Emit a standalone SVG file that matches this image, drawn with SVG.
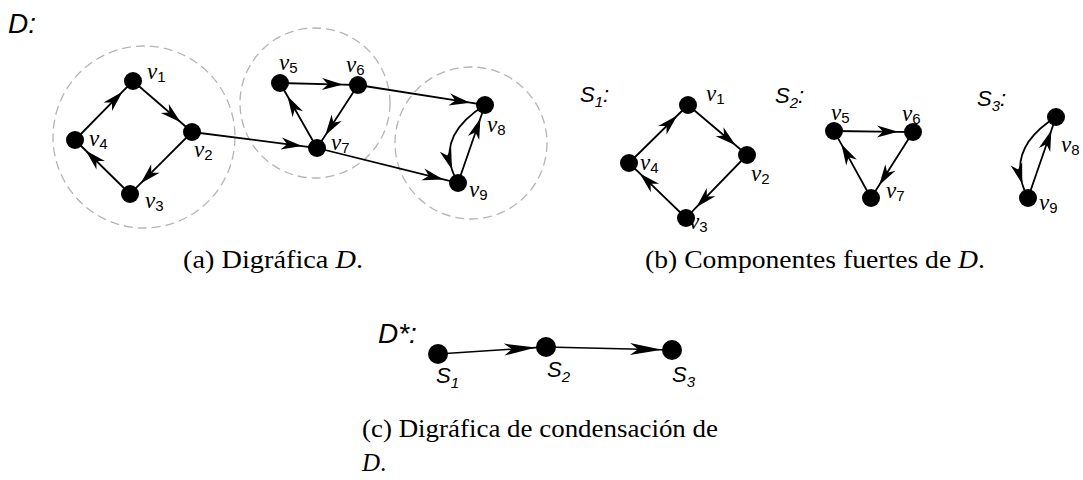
<svg xmlns="http://www.w3.org/2000/svg" width="1083" height="480" viewBox="0 0 1083 480">
<style>
.cl{fill:none;stroke:#b4b4b4;stroke-width:1.3;stroke-dasharray:9 5}
.nd{fill:#000}
.e{fill:none;stroke:#000;stroke-width:1.8;marker-mid:url(#ah)}
.ec{fill:none;stroke:#000;stroke-width:1.6;marker-mid:url(#ahc)}
.lb{font-family:"Liberation Serif",serif;font-style:italic;font-size:23px;fill:#000}
.sb{font-family:"Liberation Sans",sans-serif;font-style:normal;font-size:15px}
.sl{font-family:"Liberation Sans",sans-serif;font-style:italic;font-size:22px;fill:#000}
.ss{font-size:15px}
.big{font-family:"Liberation Sans",sans-serif;font-style:italic;font-size:28px;fill:#000}
.cap{font-family:"Liberation Serif",serif;font-size:25px;fill:#000}
</style>
<defs>
<marker id="ah" viewBox="-22 -7 23 14" refX="0" refY="0" markerWidth="23" markerHeight="14" markerUnits="userSpaceOnUse" orient="auto">
<path d="M0,0 L-21,-6 L-15,0 L-21,6 Z" fill="#000"/>
</marker>
<marker id="ahc" viewBox="-33 -7 34 14" refX="0" refY="0" markerWidth="34" markerHeight="14" markerUnits="userSpaceOnUse" orient="auto">
<path d="M0,0 L-32,-6 L-24,0 L-32,6 Z" fill="#000"/>
</marker>
</defs>

<text class="big" x="8" y="33">D:</text>

<g id="clusters">
<circle class="cl" cx="144" cy="137" r="91"/>
<circle class="cl" cx="315" cy="103" r="75"/>
<circle class="cl" cx="471" cy="143" r="76"/>
</g>

<g id="connectors">
<path class="e" d="M75,140 L122.5,91.7 L133,81"/>
<path class="e" d="M133,81 L180.7,122.2 L192,132"/>
<path class="e" d="M192,132 L140.6,183.4 L130,194"/>
<path class="e" d="M130,194 L85.7,150.5 L75,140"/>
<path class="e" d="M192,132 L302.1,146.1 L317,148"/>
<path class="e" d="M280,83 L343,84.6 L358,85"/>
<path class="e" d="M358,85 L325.2,135.4 L317,148"/>
<path class="e" d="M317,148 L287.4,96 L280,83"/>
<path class="e" d="M358,85 L470.2,102.7 L485,105"/>
<path class="e" d="M317,148 L443.4,179.4 L458,183"/>
<path class="e" d="M458,183 L480.4,118.2 L485,105"/>
<path class="e" d="M485,105 Q439.95,133.05 451.98,169.77 Q454.1,176.25 458,183"/>

<path class="e" d="M629,163 L677.3,115.5 L688,105"/>
<path class="e" d="M688,105 L735.6,145.3 L747,155"/>
<path class="e" d="M747,155 L696.4,207.2 L686,218"/>
<path class="e" d="M686,218 L639.8,173.4 L629,163"/>
<path class="e" d="M834,131 L898,131.8 L913,132"/>
<path class="e" d="M913,132 L879.1,185.3 L871,198"/>
<path class="e" d="M871,198 L841.3,144.1 L834,131"/>
<path class="e" d="M1028,198 L1051.4,130.2 L1056,117"/>
<path class="e" d="M1056,117 Q1010.95,145.05 1022.26,183.94 Q1024.25,190.8 1028,198"/>

<path class="ec" d="M438,354 L536,347.6 L546,347"/>
<path class="ec" d="M546,347 L662,349.8 L672,350"/>
</g>

<g id="a-v1"><circle class="nd" cx="133" cy="81" r="9"/><text class="lb" x="147" y="79">ν<tspan class="sb" dy="3">1</tspan></text></g>
<g id="a-v2"><circle class="nd" cx="192" cy="132" r="9"/><text class="lb" x="194" y="157">ν<tspan class="sb" dy="3">2</tspan></text></g>
<g id="a-v3"><circle class="nd" cx="130" cy="194" r="9"/><text class="lb" x="145" y="208">ν<tspan class="sb" dy="3">3</tspan></text></g>
<g id="a-v4"><circle class="nd" cx="75" cy="140" r="9"/><text class="lb" x="89" y="146">ν<tspan class="sb" dy="3">4</tspan></text></g>
<g id="a-v5"><circle class="nd" cx="280" cy="83" r="9"/><text class="lb" x="279" y="70">ν<tspan class="sb" dy="3">5</tspan></text></g>
<g id="a-v6"><circle class="nd" cx="358" cy="85" r="9"/><text class="lb" x="346" y="72">ν<tspan class="sb" dy="3">6</tspan></text></g>
<g id="a-v7"><circle class="nd" cx="317" cy="148" r="9"/><text class="lb" x="331" y="150">ν<tspan class="sb" dy="3">7</tspan></text></g>
<g id="a-v8"><circle class="nd" cx="485" cy="105" r="9"/><text class="lb" x="487" y="132">ν<tspan class="sb" dy="3">8</tspan></text></g>
<g id="a-v9"><circle class="nd" cx="458" cy="183" r="9"/><text class="lb" x="469" y="197">ν<tspan class="sb" dy="3">9</tspan></text></g>

<g id="b-S1-label"><text class="sl" x="580" y="102">S<tspan class="ss" dy="5">1</tspan><tspan dy="-5">:</tspan></text></g>
<g id="b-S2-label"><text class="sl" x="775" y="103">S<tspan class="ss" dy="5">2</tspan><tspan dy="-5">:</tspan></text></g>
<g id="b-S3-label"><text class="sl" x="977" y="106">S<tspan class="ss" dy="5">3</tspan><tspan dy="-5">:</tspan></text></g>

<g id="b-v1"><circle class="nd" cx="688" cy="105" r="9"/><text class="lb" x="706" y="101">ν<tspan class="sb" dy="3">1</tspan></text></g>
<g id="b-v2"><circle class="nd" cx="747" cy="155" r="9"/><text class="lb" x="751" y="181">ν<tspan class="sb" dy="3">2</tspan></text></g>
<g id="b-v3"><circle class="nd" cx="686" cy="218" r="9"/><text class="lb" x="689" y="229">ν<tspan class="sb" dy="3">3</tspan></text></g>
<g id="b-v4"><circle class="nd" cx="629" cy="163" r="9"/><text class="lb" x="640" y="170">ν<tspan class="sb" dy="3">4</tspan></text></g>
<g id="b-v5"><circle class="nd" cx="834" cy="131" r="9"/><text class="lb" x="831" y="120">ν<tspan class="sb" dy="3">5</tspan></text></g>
<g id="b-v6"><circle class="nd" cx="913" cy="132" r="9"/><text class="lb" x="902" y="121">ν<tspan class="sb" dy="3">6</tspan></text></g>
<g id="b-v7"><circle class="nd" cx="871" cy="198" r="9"/><text class="lb" x="886" y="198">ν<tspan class="sb" dy="3">7</tspan></text></g>
<g id="b-v8"><circle class="nd" cx="1056" cy="117" r="9"/><text class="lb" x="1061" y="152">ν<tspan class="sb" dy="3">8</tspan></text></g>
<g id="b-v9"><circle class="nd" cx="1028" cy="198" r="9"/><text class="lb" x="1039" y="210">ν<tspan class="sb" dy="3">9</tspan></text></g>

<text class="big" x="378" y="343">D*:</text>
<g id="c-S1"><circle class="nd" cx="438" cy="354" r="10"/><text class="sl" x="436" y="383">S<tspan class="ss" dy="5">1</tspan></text></g>
<g id="c-S2"><circle class="nd" cx="546" cy="347" r="10"/><text class="sl" x="547" y="377">S<tspan class="ss" dy="5">2</tspan></text></g>
<g id="c-S3"><circle class="nd" cx="672" cy="350" r="10"/><text class="sl" x="672" y="382">S<tspan class="ss" dy="5">3</tspan></text></g>

<g id="captions">
<text class="cap" x="183" y="268" textLength="180" lengthAdjust="spacingAndGlyphs">(a) Digráfica <tspan font-style="italic">D</tspan>.</text>
<text class="cap" x="645" y="268" textLength="340" lengthAdjust="spacingAndGlyphs">(b) Componentes fuertes de <tspan font-style="italic">D</tspan>.</text>
<text class="cap" x="362" y="437" textLength="356" lengthAdjust="spacingAndGlyphs">(c) Digráfica de condensación de</text>
<text class="cap" x="362" y="471"><tspan font-style="italic">D</tspan>.</text>
</g>
</svg>
